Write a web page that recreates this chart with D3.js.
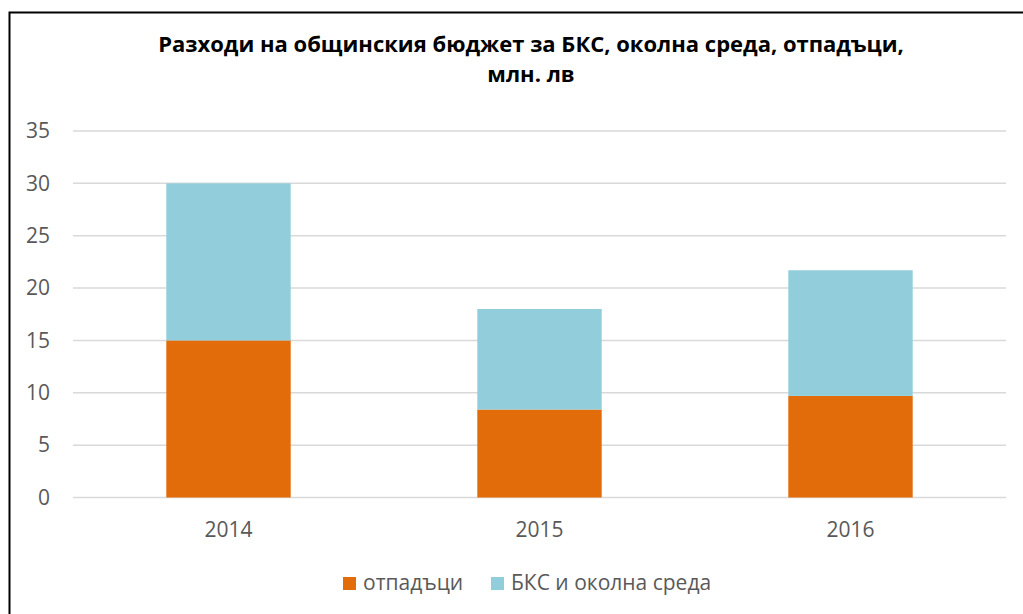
<!doctype html>
<html lang="bg">
<head>
  <meta charset="utf-8">
  <title>Разходи на общинския бюджет</title>
  <script src="https://d3js.org/d3.v7.min.js"></script>
  <style>
    body { margin: 0; background: #fff; }
    text { font-family: "Open Sans", sans-serif; }
  </style>
</head>
<body>
  <script type="text/javascript">
    // data
    var years = ["2014", "2015", "2016"];
    var waste = [15, 8.4, 9.7];          // отпадъци
    var environment = [15, 9.6, 12.0];   // БКС и околна среда
    var seriesNames = ["отпадъци", "БКС и околна среда"];
    var yTicks = [0, 5, 10, 15, 20, 25, 30, 35];

    var width = 1023;
    var height = 614;
    var colors = ["#e36c0a", "#92cddc"];

    var svg = d3.select("body")
      .append("svg")
      .attr("width", width)
      .attr("height", height);

    // outer chart border (cut by the picture edges)
    svg.append("rect")
      .attr("x", 9.5)
      .attr("y", 12.5)
      .attr("width", 1100)
      .attr("height", 700)
      .attr("fill", "none")
      .attr("stroke", "#000")
      .attr("stroke-width", 2);

    // title
    var title = svg.append("text")
      .attr("text-anchor", "middle")
      .attr("font-weight", "bold")
      .attr("font-size", 22)
      .attr("fill", "#000");
    title.append("tspan").attr("x", 531).attr("y", 52)
      .text("Разходи на общинския бюджет за БКС, околна среда, отпадъци,");
    title.append("tspan").attr("x", 531).attr("y", 82)
      .text("млн. лв");

    var x = d3.scaleBand()
      .domain(years)
      .range([73, 1006])
      .paddingInner(0.6)
      .paddingOuter(0.3);

    var y = d3.scaleLinear()
      .domain([0, 35])
      .range([497.5, 131]);

    // grid lines
    svg.append("g")
      .selectAll("line")
      .data(yTicks)
      .join("line")
      .attr("x1", 73)
      .attr("x2", 1006)
      .attr("y1", d => y(d))
      .attr("y2", d => y(d))
      .attr("stroke", "#d9d9d9")
      .attr("stroke-width", 1.5);

    // y axis labels
    var yAxis = d3.axisLeft(y).tickValues(yTicks).tickSize(0).tickPadding(0);
    var yAxisGroup = svg.append("g")
      .attr("transform", "translate(50,0)")
      .call(yAxis);
    yAxisGroup.select(".domain").remove();
    yAxisGroup.selectAll("text")
      .attr("font-family", "Open Sans, sans-serif")
      .attr("font-size", 21)
      .attr("fill", "#595959");

    // x axis labels
    var xAxis = d3.axisBottom(x).tickSize(0).tickPadding(0);
    var xAxisGroup = svg.append("g")
      .attr("transform", "translate(0,522)")
      .call(xAxis);
    xAxisGroup.select(".domain").remove();
    xAxisGroup.selectAll("text")
      .attr("font-family", "Open Sans, sans-serif")
      .attr("font-size", 21)
      .attr("fill", "#595959");

    // stacked bars
    var table = years.map((yr, i) => ({ year: yr, waste: waste[i], environment: environment[i] }));
    var stack = d3.stack().keys(["waste", "environment"]);
    var layers = stack(table);

    svg.append("g")
      .selectAll("g")
      .data(layers)
      .join("g")
      .attr("fill", (d, i) => colors[i])
      .selectAll("rect")
      .data(d => d)
      .join("rect")
      .attr("x", d => x(d.data.year))
      .attr("width", x.bandwidth())
      .attr("y", d => y(d[1]))
      .attr("height", d => y(d[0]) - y(d[1]));

    // legend
    var legendX = [343, 491];
    var legend = svg.append("g")
      .selectAll("g")
      .data(seriesNames)
      .join("g")
      .attr("transform", (d, i) => "translate(" + legendX[i] + ",577)");
    legend.append("rect")
      .attr("width", 13)
      .attr("height", 13)
      .attr("fill", (d, i) => colors[i]);
    legend.append("text")
      .attr("x", 20)
      .attr("y", 13)
      .attr("font-size", 21)
      .attr("fill", "#595959")
      .text(d => d);
  </script>
</body>
</html>
